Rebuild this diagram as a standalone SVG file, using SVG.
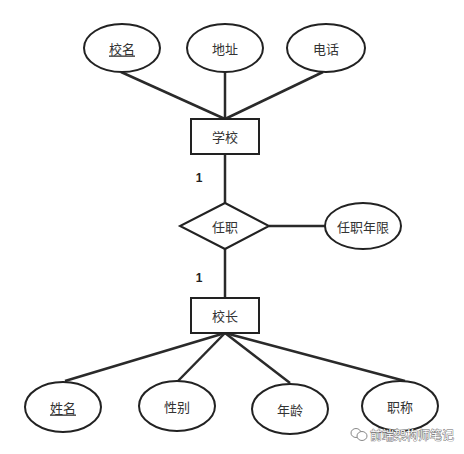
<svg xmlns="http://www.w3.org/2000/svg" width="464" height="454" viewBox="0 0 464 454">
<style>
.n{fill:#fff;stroke:#222;stroke-width:2}
.c line{stroke:#2a2a2a;stroke-width:2.5}
text{font-family:"Noto Sans CJK SC","Liberation Sans",sans-serif;font-size:13px;fill:#333;text-anchor:middle;dominant-baseline:central}
.u{text-decoration:underline}
.one{font-family:"Liberation Sans",sans-serif;font-weight:bold;font-size:12px;fill:#222}
.wm{font-size:12px;fill:#fff;stroke:#666;stroke-width:0.8;paint-order:stroke;text-anchor:start}
</style>
<rect width="464" height="454" fill="#fff"/>
<g class="c" id="connectors">
<line x1="121" y1="72" x2="225" y2="119"/>
<line x1="225" y1="72" x2="225" y2="119"/>
<line x1="323" y1="72" x2="225" y2="119"/>
<line x1="225" y1="154" x2="225" y2="203"/>
<line x1="269" y1="226" x2="325" y2="226"/>
<line x1="225" y1="249" x2="225" y2="298"/>
<line x1="225" y1="333" x2="65" y2="381"/>
<line x1="225" y1="333" x2="178" y2="381"/>
<line x1="225" y1="333" x2="290" y2="383"/>
<line x1="225" y1="333" x2="405" y2="381"/>
</g>
<g id="xiaoming"><ellipse class="n" cx="122" cy="48" rx="38" ry="24"/><text class="u" x="122" y="48">校名</text></g>
<g id="dizhi"><ellipse class="n" cx="225" cy="48" rx="38" ry="24"/><text x="225" y="48">地址</text></g>
<g id="dianhua"><ellipse class="n" cx="326" cy="48" rx="39" ry="24"/><text x="326" y="48">电话</text></g>
<g id="xuexiao"><rect class="n" x="191" y="119" width="68" height="35"/><text x="225" y="136.5">学校</text></g>
<g id="label1a"><text class="one" x="199" y="178">1</text></g>
<g id="renzhi"><polygon class="n" points="225,203 269,226 225,249 180,226"/><text x="225" y="226">任职</text></g>
<g id="nianxian"><ellipse class="n" cx="363" cy="226" rx="38" ry="23"/><text x="363" y="226">任职年限</text></g>
<g id="label1b"><text class="one" x="199" y="278">1</text></g>
<g id="xiaozhang"><rect class="n" x="191" y="298" width="68" height="35"/><text x="225" y="315.5">校长</text></g>
<g id="xingming"><ellipse class="n" cx="63" cy="407" rx="38" ry="25"/><text class="u" x="63" y="407">姓名</text></g>
<g id="xingbie"><ellipse class="n" cx="177" cy="406" rx="38" ry="25"/><text x="177" y="406">性别</text></g>
<g id="nianling"><ellipse class="n" cx="290" cy="409" rx="38" ry="25"/><text x="290" y="409">年龄</text></g>
<g id="zhicheng"><ellipse class="n" cx="400" cy="406" rx="38" ry="25"/><text x="400" y="406">职称</text></g>
<g id="watermark">
<ellipse cx="356" cy="433" rx="5" ry="4.5" fill="none" stroke="#888" stroke-width="1"/>
<ellipse cx="362" cy="436" rx="5" ry="4.5" fill="#fff" stroke="#888" stroke-width="1"/>
<text class="wm" x="370" y="434">前端架构师笔记</text>
</g>
</svg>
